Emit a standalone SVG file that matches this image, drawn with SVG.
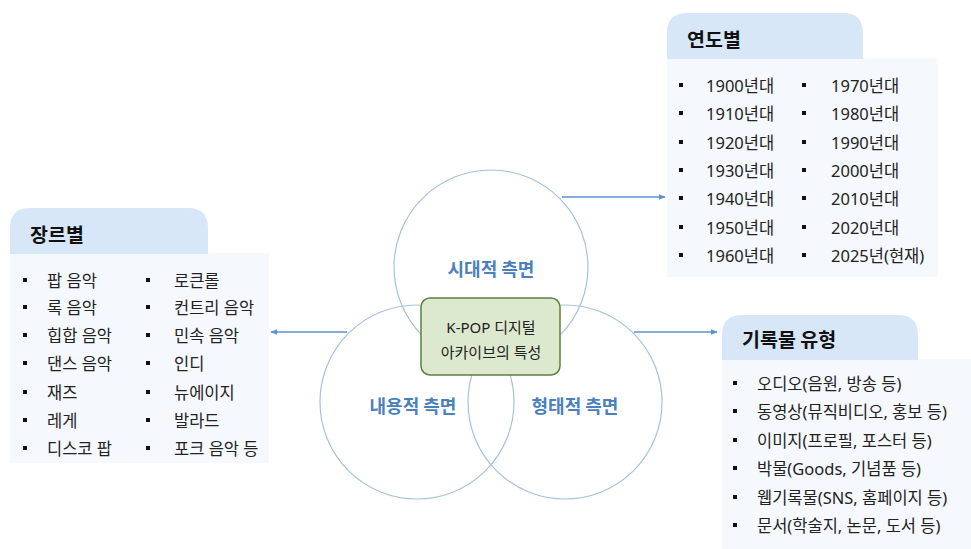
<svg xmlns="http://www.w3.org/2000/svg" width="971" height="549" viewBox="0 0 971 549">
<defs>
<marker id="arr" viewBox="0 0 10 10" refX="9" refY="5" markerWidth="7" markerHeight="7" orient="auto-start-reverse" markerUnits="userSpaceOnUse">
<path d="M0,1 L10,5 L0,9 z" fill="#5b93cc"/>
</marker>
<style>
.t{font-family:"Noto Sans","Noto Sans CJK KR",sans-serif;font-size:16.5px;fill:#222;dominant-baseline:central}
.h{font-family:"Noto Sans CJK KR","Noto Sans",sans-serif;font-size:19.5px;font-weight:bold;fill:#111;dominant-baseline:central}
.c{font-family:"Noto Sans CJK KR","Noto Sans",sans-serif;font-size:18px;font-weight:bold;fill:#4a80bd;dominant-baseline:central;text-anchor:middle}
.g{font-family:"Noto Sans","Noto Sans CJK KR",sans-serif;font-size:15px;fill:#222;dominant-baseline:central;text-anchor:middle}
.hd{fill:#d7e7f8}
.bd{fill:#f5f8fc}
.b{fill:#111}
.circ{fill:none;stroke:#a6c1dc;stroke-width:1.2}
.ln{stroke:#5b93cc;stroke-width:1.5;fill:none}
</style>
</defs>
<rect width="971" height="549" fill="#fff"/>

<g id="connectors">
<line class="ln" x1="562" y1="197" x2="665" y2="197" marker-end="url(#arr)"/>
<line class="ln" x1="347" y1="332" x2="271" y2="332" marker-end="url(#arr)"/>
<line class="ln" x1="634" y1="332" x2="717" y2="332" marker-end="url(#arr)"/>
</g>

<g id="circle-time">
<circle class="circ" cx="491" cy="267" r="97"/>
<text class="c" x="491" y="268">시대적 측면</text>
</g>
<g id="circle-content">
<circle class="circ" cx="417" cy="402" r="97"/>
<text class="c" x="413" y="405">내용적 측면</text>
</g>
<g id="circle-form">
<circle class="circ" cx="565" cy="402" r="97"/>
<text class="c" x="575" y="405">형태적 측면</text>
</g>

<g id="center">
<rect x="421" y="298" width="139" height="77" rx="9" fill="#dde9cf" stroke="#5f7f42" stroke-width="1.5"/>
<text class="g" x="491" y="327">K-POP 디지털</text>
<text class="g" x="491" y="352">아카이브의 특성</text>
</g>

<g id="years">
<rect class="bd" x="667" y="58" width="271" height="219"/>
<path class="hd" d="M667,59 V33 Q667,13 687,13 H843 Q863,13 863,33 V59 Z"/>
<text class="h" x="687" y="38">연도별</text>
<g>
<rect class="b" x="679" y="83" width="4" height="4"/><text class="t" x="706" y="85">1900년대</text>
<rect class="b" x="679" y="111" width="4" height="4"/><text class="t" x="706" y="113">1910년대</text>
<rect class="b" x="679" y="140" width="4" height="4"/><text class="t" x="706" y="142">1920년대</text>
<rect class="b" x="679" y="168" width="4" height="4"/><text class="t" x="706" y="170">1930년대</text>
<rect class="b" x="679" y="196" width="4" height="4"/><text class="t" x="706" y="198">1940년대</text>
<rect class="b" x="679" y="225" width="4" height="4"/><text class="t" x="706" y="227">1950년대</text>
<rect class="b" x="679" y="253" width="4" height="4"/><text class="t" x="706" y="255">1960년대</text>
<rect class="b" x="802" y="83" width="4" height="4"/><text class="t" x="831" y="85">1970년대</text>
<rect class="b" x="802" y="111" width="4" height="4"/><text class="t" x="831" y="113">1980년대</text>
<rect class="b" x="802" y="140" width="4" height="4"/><text class="t" x="831" y="142">1990년대</text>
<rect class="b" x="802" y="168" width="4" height="4"/><text class="t" x="831" y="170">2000년대</text>
<rect class="b" x="802" y="196" width="4" height="4"/><text class="t" x="831" y="198">2010년대</text>
<rect class="b" x="802" y="225" width="4" height="4"/><text class="t" x="831" y="227">2020년대</text>
<rect class="b" x="802" y="253" width="4" height="4"/><text class="t" x="831" y="255">2025년(현재)</text>
</g>
</g>

<g id="genre">
<rect class="bd" x="10" y="253" width="259" height="210"/>
<path class="hd" d="M10,254 V228 Q10,208 30,208 H188 Q208,208 208,228 V254 Z"/>
<text class="h" x="30" y="233">장르별</text>
<g>
<rect class="b" x="23" y="278" width="4" height="4"/><text class="t" x="47" y="280">팝 음악</text>
<rect class="b" x="23" y="305" width="4" height="4"/><text class="t" x="47" y="307">록 음악</text>
<rect class="b" x="23" y="333" width="4" height="4"/><text class="t" x="47" y="335">힙합 음악</text>
<rect class="b" x="23" y="361" width="4" height="4"/><text class="t" x="47" y="363">댄스 음악</text>
<rect class="b" x="23" y="390" width="4" height="4"/><text class="t" x="47" y="392">재즈</text>
<rect class="b" x="23" y="418" width="4" height="4"/><text class="t" x="47" y="420">레게</text>
<rect class="b" x="23" y="446" width="4" height="4"/><text class="t" x="47" y="448">디스코 팝</text>
<rect class="b" x="146" y="278" width="4" height="4"/><text class="t" x="174" y="280">로큰롤</text>
<rect class="b" x="146" y="305" width="4" height="4"/><text class="t" x="174" y="307">컨트리 음악</text>
<rect class="b" x="146" y="333" width="4" height="4"/><text class="t" x="174" y="335">민속 음악</text>
<rect class="b" x="146" y="361" width="4" height="4"/><text class="t" x="174" y="363">인디</text>
<rect class="b" x="146" y="390" width="4" height="4"/><text class="t" x="174" y="392">뉴에이지</text>
<rect class="b" x="146" y="418" width="4" height="4"/><text class="t" x="174" y="420">발라드</text>
<rect class="b" x="146" y="446" width="4" height="4"/><text class="t" x="174" y="448">포크 음악 등</text>
</g>
</g>

<g id="records">
<rect class="bd" x="722" y="359" width="249" height="190"/>
<path class="hd" d="M722,360 V335 Q722,315 742,315 H898 Q918,315 918,335 V360 Z"/>
<text class="h" x="742" y="338">기록물 유형</text>
<g>
<rect class="b" x="733" y="381" width="4" height="4"/><text class="t" x="757" y="383">오디오(음원, 방송 등)</text>
<rect class="b" x="733" y="409" width="4" height="4"/><text class="t" x="757" y="411">동영상(뮤직비디오, 홍보 등)</text>
<rect class="b" x="733" y="438" width="4" height="4"/><text class="t" x="757" y="440">이미지(프로필, 포스터 등)</text>
<rect class="b" x="733" y="466" width="4" height="4"/><text class="t" x="757" y="468">박물(Goods, 기념품 등)</text>
<rect class="b" x="733" y="495" width="4" height="4"/><text class="t" x="757" y="497">웹기록물(SNS, 홈페이지 등)</text>
<rect class="b" x="733" y="523" width="4" height="4"/><text class="t" x="757" y="525">문서(학술지, 논문, 도서 등)</text>
</g>
</g>
</svg>
